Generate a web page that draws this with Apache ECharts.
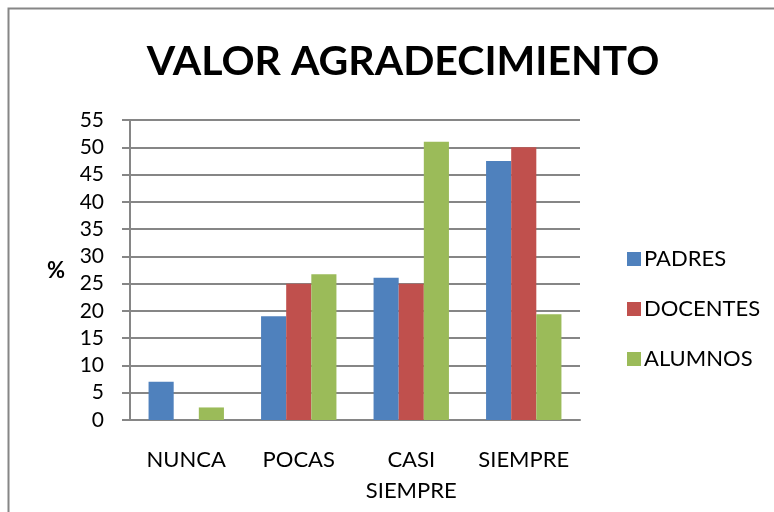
<!DOCTYPE html>
<html>
<head>
<meta charset="utf-8">
<script src="https://cdn.jsdelivr.net/npm/echarts@6/dist/echarts.min.js"></script>
<style>
  html, body { margin: 0; padding: 0; background: #fff; }
  #chart { width: 774px; height: 512px; }
</style>
</head>
<body>
<div id="chart"></div>
<script>
// datos
var categorias = ['NUNCA', 'POCAS', 'CASI\nSIEMPRE', 'SIEMPRE'];
var padres = [7, 19, 26.1, 47.5];
var docentes = [0, 25, 25, 50];
var alumnos = [2.3, 26.7, 51, 19.4];
var nombres = ['PADRES', 'DOCENTES', 'ALUMNOS'];
var colores = ['#4f81bd', '#c0504d', '#9bbb59'];

var myChart = echarts.init(document.getElementById('chart'), null, { renderer: 'canvas' });

var fuente = 'Lato, "Open Sans", sans-serif';

option = {
  animation: false,
  color: colores,
  title: {
    text: 'VALOR AGRADECIMIENTO',
    left: 398,
    top: 36,
    textAlign: 'center',
    textStyle: {
      fontFamily: fuente,
      fontWeight: 'bold',
      fontSize: 41,
      color: '#000'
    }
  },
  // marco gris del grafico
  graphic: [
    {
      type: 'rect',
      shape: { x: 8.5, y: 8.5, width: 800, height: 600 },
      style: { fill: 'none', stroke: '#868686', lineWidth: 2 },
      silent: true
    },
    {
      type: 'text',
      left: 47,
      top: 260,
      style: {
        text: '%',
        font: 'bold 22px ' + fuente,
        fill: '#000'
      }
    }
  ],
  legend: {
    orient: 'vertical',
    left: 622,
    top: 243,
    itemGap: 28,
    itemWidth: 14,
    itemHeight: 14,
    icon: 'rect',
    textStyle: {
      fontFamily: fuente,
      fontSize: 22,
      color: '#000',
      padding: [0, 0, 0, -2]
    },
    data: nombres
  },
  grid: {
    left: 130,
    right: 194,
    top: 120,
    bottom: 92,
    containLabel: false
  },
  xAxis: {
    type: 'category',
    data: categorias,
    axisLine: { lineStyle: { color: '#868686', width: 2 } },
    axisTick: { show: false },
    axisLabel: {
      interval: 0,
      margin: 24,
      fontFamily: fuente,
      fontSize: 22,
      lineHeight: 31,
      color: '#000'
    }
  },
  yAxis: {
    type: 'value',
    min: 0,
    max: 55,
    interval: 5,
    axisLine: { show: true, lineStyle: { color: '#868686', width: 2 } },
    axisTick: { show: true, length: 8, lineStyle: { color: '#868686', width: 2 } },
    splitLine: { lineStyle: { color: '#868686', width: 2 } },
    axisLabel: {
      margin: 26,
      fontFamily: fuente,
      fontSize: 21,
      color: '#000'
    }
  },
  series: [
    { name: nombres[0], type: 'bar', data: padres, barGap: '0%', barCategoryGap: '33%' },
    { name: nombres[1], type: 'bar', data: docentes, barGap: '0%', barCategoryGap: '33%' },
    { name: nombres[2], type: 'bar', data: alumnos, barGap: '0%', barCategoryGap: '33%' }
  ]
};

myChart.setOption(option);
</script>
</body>
</html>
